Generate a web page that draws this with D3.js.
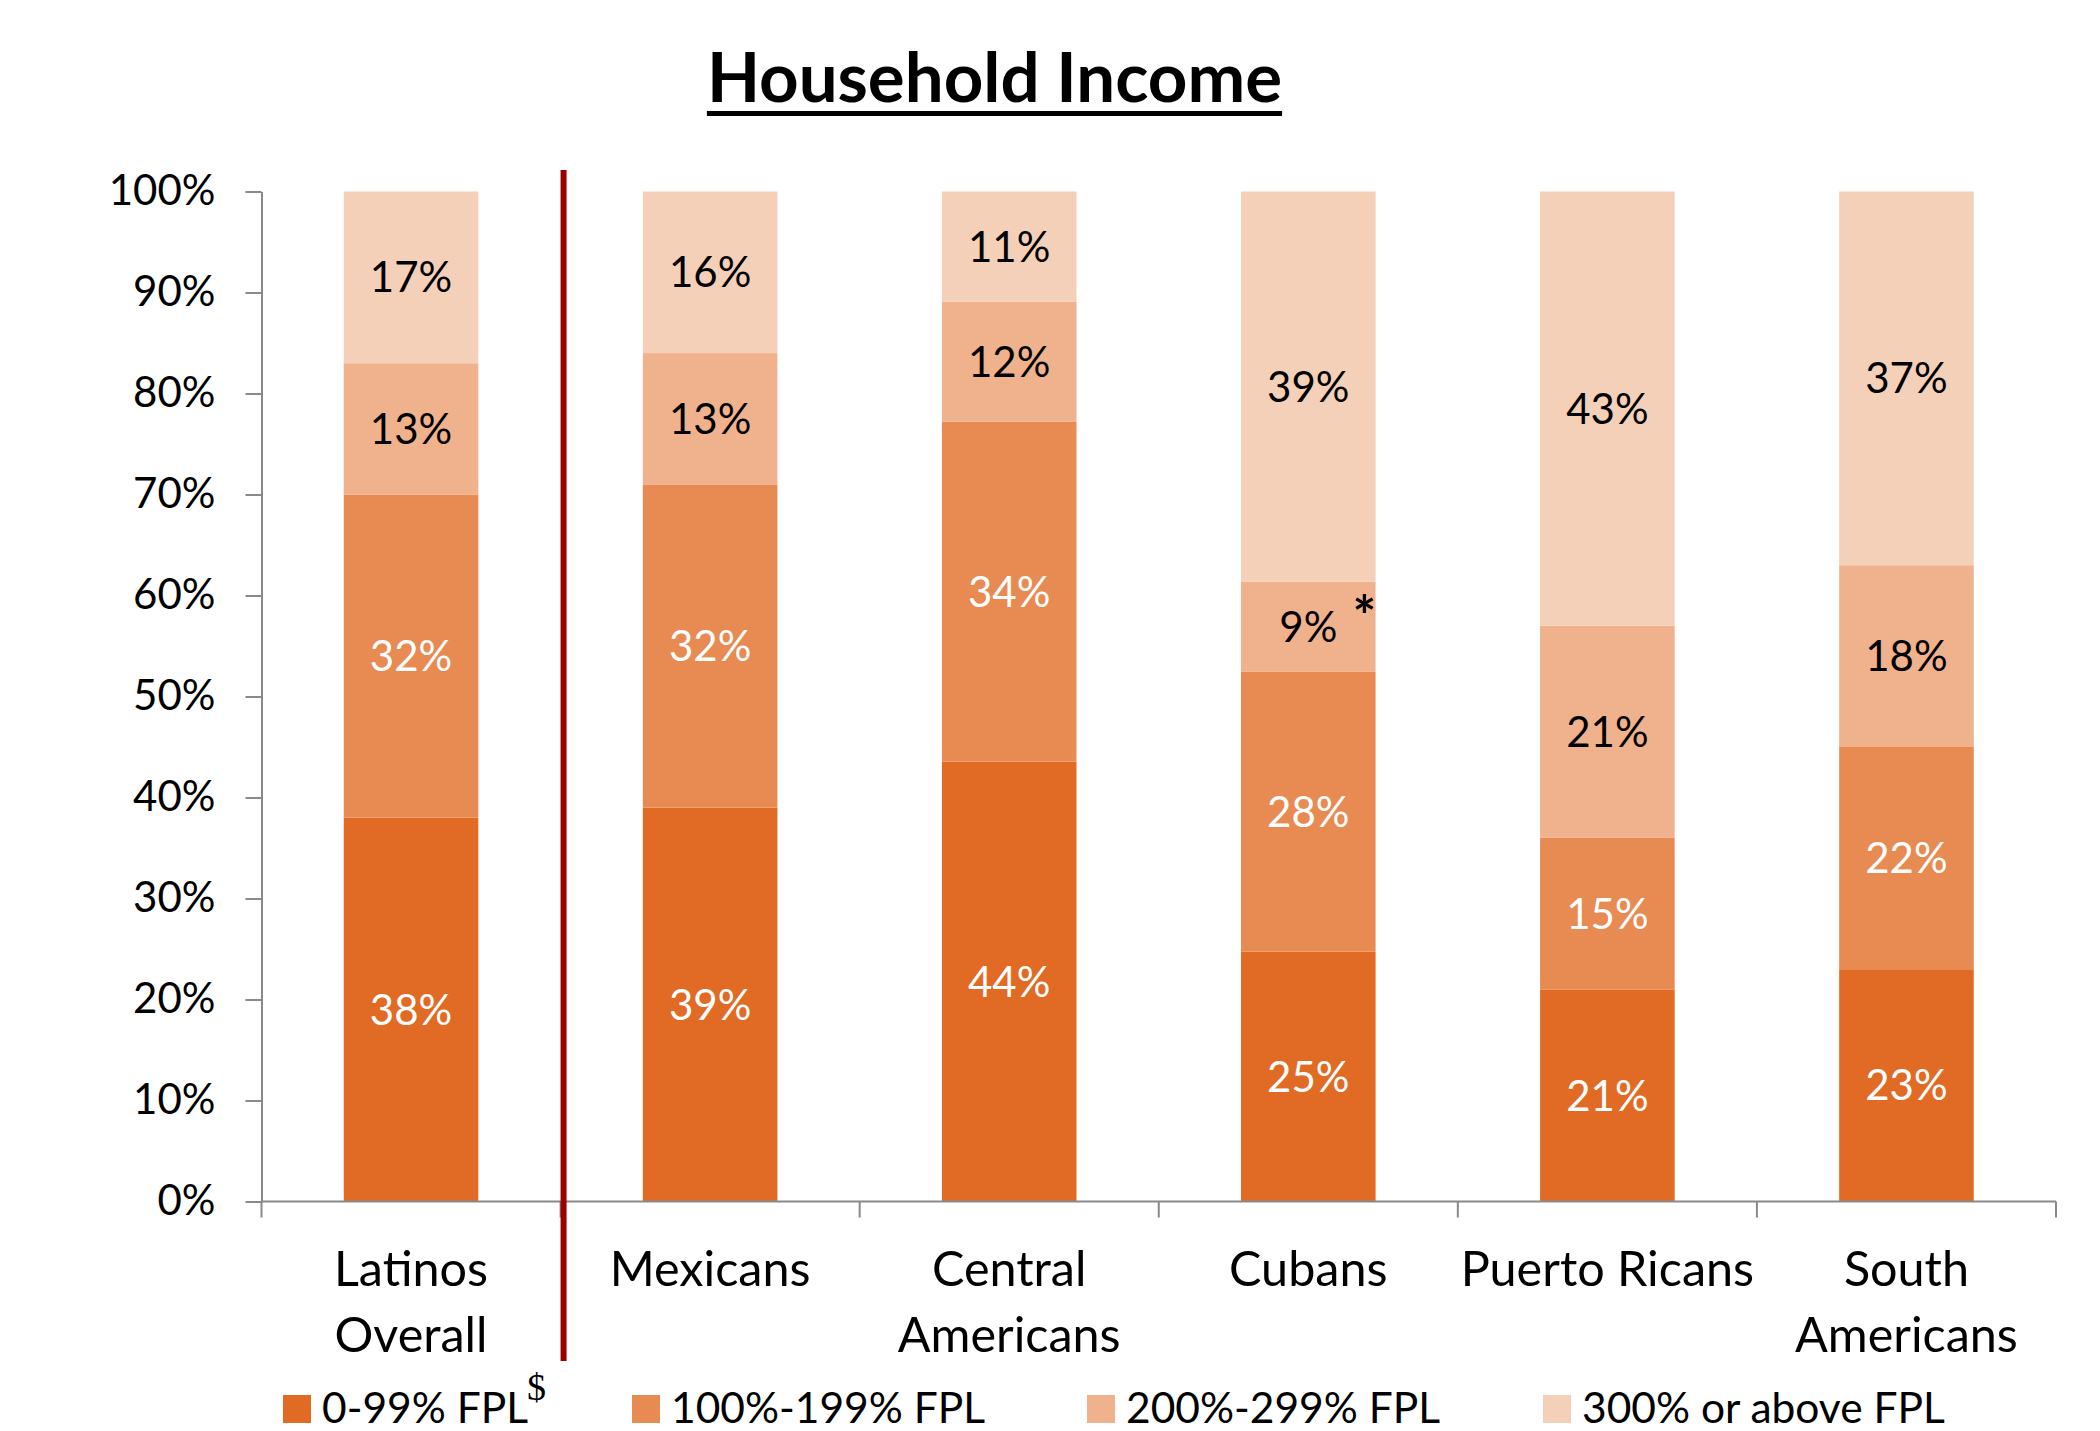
<!DOCTYPE html>
<html>
<head>
<meta charset="utf-8">
<script src="https://cdn.jsdelivr.net/npm/d3@7"></script>
<style>
  body { margin: 0; background: #fff; }
  svg { display: block; }
  text { font-family: Lato, "Open Sans", sans-serif; }
</style>
</head>
<body>
<svg id="drawspace" width="2100" height="1431"></svg>
<script>
// data
const groups = ["Latinos Overall", "Mexicans", "Central Americans", "Cubans", "Puerto Ricans", "South Americans"];
const groupLines = [["Latinos", "Overall"], ["Mexicans"], ["Central", "Americans"], ["Cubans"], ["Puerto Ricans"], ["South", "Americans"]];
const seriesNames = ["0-99% FPL", "100%-199% FPL", "200%-299% FPL", "300% or above FPL"];
const fpl0to99 = [38, 39, 44, 25, 21, 23];
const fpl100to199 = [32, 32, 34, 28, 15, 22];
const fpl200to299 = [13, 13, 12, 9, 21, 18];
const fpl300up = [17, 16, 11, 39, 43, 37];
const yTicks = [0, 0.1, 0.2, 0.3, 0.4, 0.5, 0.6, 0.7, 0.8, 0.9, 1];

let ds = d3.select("#drawspace");
let colors = ["#e16b25", "#e88b53", "#f0b28c", "#f5d0b8"];
let labelColors = ["#fff", "#fff", "#000", "#000"];
let axisColor = "#898989";

let table = groups.map((g, i) => ({
  group: g,
  s0: fpl0to99[i], s1: fpl100to199[i], s2: fpl200to299[i], s3: fpl300up[i]
}));
let stacked = d3.stack().keys(["s0", "s1", "s2", "s3"]).offset(d3.stackOffsetExpand)(table);

let plotL = 261.5, plotR = 2056, plotT = 191.5, plotB = 1201.5;
let xscale = d3.scaleBand().domain(groups).range([plotL, plotR]).paddingInner(0.55).paddingOuter(0.275);
let yscale = d3.scaleLinear().domain([0, 1]).range([plotB, plotT]);
let step = xscale.step();

// title
let title = ds.append("text")
  .attr("x", 994.5).attr("y", 102)
  .attr("text-anchor", "middle")
  .style("font-size", "69px").style("font-weight", "bold")
  .text("Household Income");
let tw = title.node().getComputedTextLength();
ds.append("rect").attr("x", 994.5 - tw / 2).attr("y", 111).attr("width", tw).attr("height", 5).attr("fill", "#000");

// bars
let layers = ds.append("g").selectAll("g").data(stacked).enter().append("g")
  .attr("fill", (d, i) => colors[i]);
layers.selectAll("rect").data(d => d).enter().append("rect")
  .attr("x", d => xscale(d.data.group))
  .attr("width", xscale.bandwidth())
  .attr("y", d => yscale(d[1]))
  .attr("height", d => yscale(d[0]) - yscale(d[1]));

// segment labels
stacked.forEach((layer, si) => {
  ds.append("g").selectAll("text").data(layer).enter().append("text")
    .attr("x", d => xscale(d.data.group) + xscale.bandwidth() / 2)
    .attr("y", d => (yscale(d[0]) + yscale(d[1])) / 2)
    .attr("dy", "0.36em")
    .attr("text-anchor", "middle")
    .style("font-size", "42px")
    .attr("fill", labelColors[si])
    .text(d => d.data[layer.key] + "%");
});

// asterisk on the Cubans 9%
let cub = stacked[2][3];
ds.append("text")
  .attr("x", xscale("Cubans") + xscale.bandwidth() / 2 + 56)
  .attr("y", (yscale(cub[0]) + yscale(cub[1])) / 2 + 9)
  .attr("text-anchor", "middle")
  .style("font-size", "56px").style("font-weight", "bold")
  .text("*");

// y axis
let yAxis = ds.append("g").attr("transform", "translate(" + plotL + ",0)")
  .call(d3.axisLeft(yscale).tickValues(yTicks).tickFormat(d3.format(".0%")).tickSize(16).tickSizeOuter(0).tickPadding(30));
yAxis.attr("font-family", null).attr("font-size", null);
yAxis.selectAll("text").style("font-size", "42px").attr("fill", "#000");
yAxis.selectAll("line, path").attr("stroke", axisColor).attr("stroke-width", 2);

// x axis with ticks on band boundaries
ds.append("line").attr("x1", plotL).attr("x2", plotR).attr("y1", plotB).attr("y2", plotB)
  .attr("stroke", axisColor).attr("stroke-width", 2);
ds.append("g").selectAll("line").data(d3.range(groups.length + 1)).enter().append("line")
  .attr("x1", i => plotL + i * step).attr("x2", i => plotL + i * step)
  .attr("y1", plotB).attr("y2", plotB + 16)
  .attr("stroke", axisColor).attr("stroke-width", 2);

let cat = ds.append("g").selectAll("text").data(groups).enter().append("text")
  .attr("text-anchor", "middle")
  .style("font-size", "48.5px");
cat.each(function (g, i) {
  let cx = xscale(g) + xscale.bandwidth() / 2;
  d3.select(this).selectAll("tspan").data(groupLines[i]).enter().append("tspan")
    .attr("x", cx)
    .attr("y", (d, j) => 1286 + j * 66)
    .text(d => d);
});

// separator after Latinos Overall
let sepX = xscale("Mexicans") - step * xscale.paddingInner() / 2 + 3;
ds.append("line").attr("x1", sepX).attr("x2", sepX).attr("y1", 170).attr("y2", 1361)
  .attr("stroke", "#990000").attr("stroke-width", 6);

// legend
let legendX = [283, 632, 1087, 1543];
seriesNames.forEach((name, i) => {
  let g = ds.append("g").attr("transform", "translate(" + legendX[i] + ",1395)");
  g.append("rect").attr("width", 28).attr("height", 28).attr("fill", colors[i]);
  let t = g.append("text").attr("x", 39).attr("y", 28).style("font-size", "42.5px").text(name);
  if (i == 0) {
    let w = t.node().getComputedTextLength();
    g.append("text").attr("x", 39 + w - 1).attr("y", 5)
      .style("font-family", "'Liberation Serif', serif").style("font-size", "38px")
      .text("$");
  }
});
</script>
</body>
</html>
